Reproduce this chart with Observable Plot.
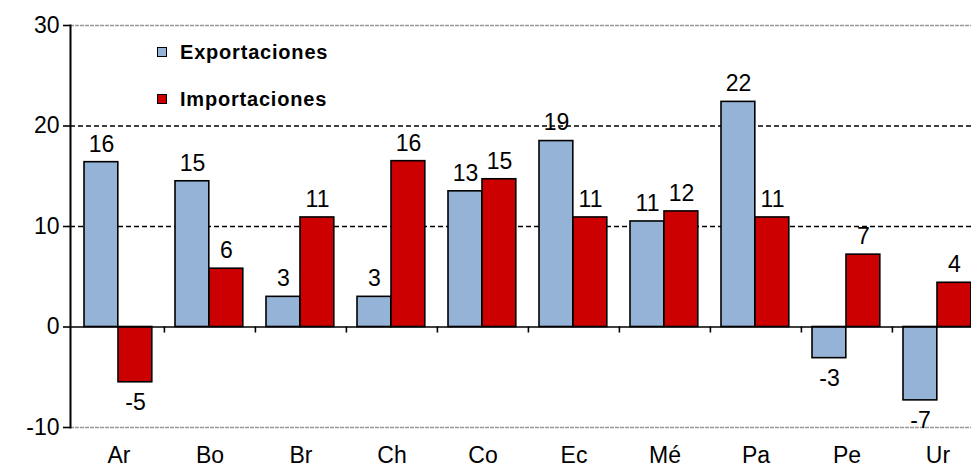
<!DOCTYPE html>
<html><head><meta charset="utf-8">
<script src="https://cdn.jsdelivr.net/npm/d3@7"></script>
<script src="https://cdn.jsdelivr.net/npm/@observablehq/plot@0.6"></script>
<style>
body{margin:0;background:#fff;overflow:hidden}
#wrap{position:relative;width:971px;height:468px;font-family:"Liberation Sans",Arial,sans-serif;overflow:hidden}
.leg{position:absolute;left:157px;font-weight:bold;font-size:20px;line-height:22px;display:flex;align-items:center;color:#000;letter-spacing:0.8px}
.sw{width:8px;height:8px;border:1.5px solid #000;margin-right:13px}
</style></head><body><div id="wrap"></div>
<script>
const countries = ["Ar","Bo","Br","Ch","Co","Ec","Mé","Pa","Pe","Ur"];
const exportaciones = [16.4, 14.5, 3.0, 3.0, 13.5, 18.5, 10.5, 22.4, -3.1, -7.3];
const importaciones = [-5.5, 5.8, 10.9, 16.5, 14.7, 10.9, 11.5, 10.9, 7.2, 4.4];
const exportLabels = ["16","15","3","3","13","19","11","22","-3","-7"];
const importLabels = ["-5","6","11","16","15","11","12","11","7","4"];
const yTicks = [-10, 0, 10, 20, 30];
const series = ["Exportaciones", "Importaciones"];
const colors = ["#95B3D7", "#CC0000"];

const idx = d3.range(countries.length);
const x0 = 71.7, band = 91.2;

const chart = Plot.plot({
  width: 971,
  height: 468,
  marginTop: 25,
  marginBottom: 41,
  marginLeft: 70,
  marginRight: 0,
  style: {fontFamily: "Liberation Sans, Arial, sans-serif", color: "#000", background: "#fff"},
  x: {type: "band", domain: countries, range: [x0, x0 + band * countries.length], padding: 0, axis: null},
  y: {domain: [-10, 30], axis: null},
  marks: [
    Plot.ruleY([10, 20], {stroke: "#000", strokeWidth: 1.6, strokeDasharray: "5,3"}),
    Plot.ruleY([30, -10], {stroke: "#999", strokeWidth: 1.6, strokeDasharray: "4,1"}),
    Plot.barY(idx, {x: i => countries[i], y: i => exportaciones[i], fill: colors[0], stroke: "#000", strokeWidth: 1.6, insetLeft: 11, insetRight: band - 45}),
    Plot.barY(idx, {x: i => countries[i], y: i => importaciones[i], fill: colors[1], stroke: "#000", strokeWidth: 1.6, insetLeft: 45, insetRight: band - 79}),
    Plot.ruleY([0], {stroke: "#000", strokeWidth: 1.6}),
    Plot.ruleX(countries.slice(1), {x: d => d, dx: -band / 2, y1: 0, y2: -0.6, stroke: "#000", strokeWidth: 1.6}),
    Plot.frame({anchor: "left", stroke: "#000", strokeWidth: 2}),
    Plot.axisY({ticks: yTicks, tickSize: 7, tickPadding: 4, fontSize: 23, tickFormat: d => String(d), label: null, strokeWidth: 1.6}),
    Plot.axisX({tickSize: 0, tickPadding: 19, fontSize: 23, label: null}),
    Plot.text(idx.filter(i => exportaciones[i] >= 0), {x: i => countries[i], y: i => exportaciones[i], text: i => exportLabels[i], dx: -17.5, dy: -18, fontSize: 23}),
    Plot.text(idx.filter(i => exportaciones[i] < 0), {x: i => countries[i], y: i => exportaciones[i], text: i => exportLabels[i], dx: -17.5, dy: 20, fontSize: 23}),
    Plot.text(idx.filter(i => importaciones[i] >= 0), {x: i => countries[i], y: i => importaciones[i], text: i => importLabels[i], dx: 16.5, dy: -18, fontSize: 23}),
    Plot.text(idx.filter(i => importaciones[i] < 0), {x: i => countries[i], y: i => importaciones[i], text: i => importLabels[i], dx: 16.5, dy: 20, fontSize: 23})
  ]
});

const wrap = document.getElementById("wrap");
wrap.appendChild(chart);
const legTops = [41, 88];
series.forEach((s, k) => {
  const row = document.createElement("div");
  row.className = "leg";
  row.style.top = legTops[k] + "px";
  const sw = document.createElement("span");
  sw.className = "sw";
  sw.style.background = colors[k];
  const tx = document.createElement("span");
  tx.textContent = s;
  row.appendChild(sw);
  row.appendChild(tx);
  wrap.appendChild(row);
});
</script></body></html>
